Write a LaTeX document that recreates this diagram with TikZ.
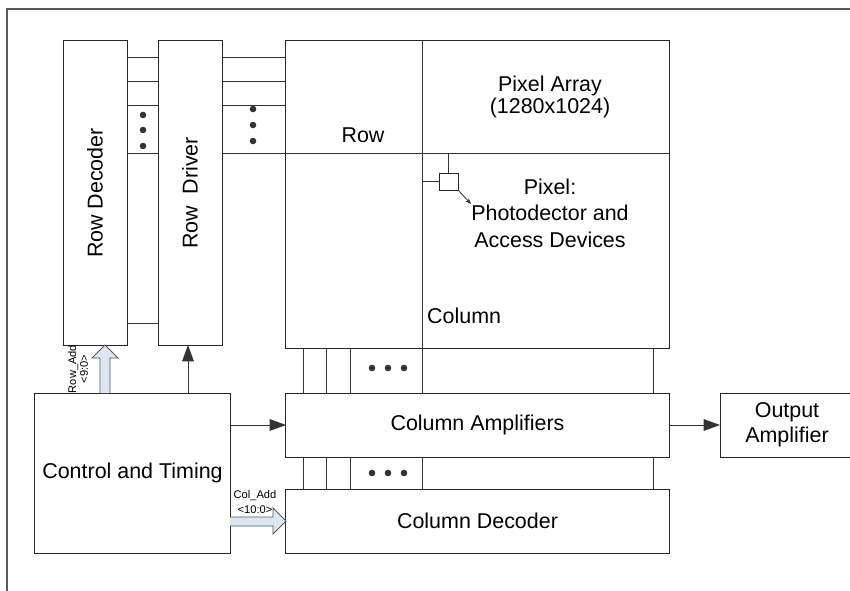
\documentclass[tikz,border=0pt]{standalone}
\usepackage{fontspec}
\setmainfont{Liberation Sans}
\usetikzlibrary{positioning,arrows.meta}
\definecolor{busfill}{HTML}{DDE7F4}

\begin{document}
\begin{tikzpicture}[x=0.03cm,y=-0.03cm,
  box/.style={draw=black!85,line width=0.85pt,inner sep=0pt,outer sep=0pt,align=center,
    font=\fontsize{18.3}{21.5}\selectfont},
  lbl/.style={inner sep=0pt,align=center,font=\fontsize{18.3}{21.5}\selectfont},
  small/.style={inner sep=0pt,align=center,font=\fontsize{9.5}{11}\selectfont},
  wire/.style={draw=black!80,line width=0.85pt},
  sig/.style={wire,-{Triangle[length=14pt,width=10pt]}},
  bus/.style={draw=black!65,fill=busfill,line width=0.7pt}]
\clip (0,0) rectangle (850,590);
% frame
\draw[line width=1.7pt,black!65] (7,600) -- (7,9) -- (860,9);
% blocks
\node[box,minimum width=1.92cm,minimum height=9.12cm] (dec) at (95,193) {\rotatebox{90}{Row Decoder}};
\node[box,minimum width=1.92cm,minimum height=9.12cm] (drv) at (190,193) {\rotatebox{90}{Row\ \ Driver}};
\node[box,minimum width=11.49cm,minimum height=9.21cm] (pix) at (477.5,194.5) {};
\node[box,minimum width=11.49cm,minimum height=1.92cm] (ca) at (477.5,425) {Column Amplifiers};
\node[box,minimum width=11.49cm,minimum height=1.92cm] (cd) at (477.5,521) {Column Decoder};
\node[box,minimum width=4.02cm,minimum height=1.92cm] (oa) at (787,425) {Output\\Amplifier};
\node[box,minimum width=5.85cm,minimum height=4.8cm] (ct) at (132.5,473) {Control and Timing};
% pixel array
\draw[wire] (pix.north -| 422,0) -- (pix.south -| 422,0);
\node[lbl] (rowlbl) at (363,135) {Row};
\node[lbl,anchor=west] (collbl) at (427,316) {Column};
\node[lbl,font=\fontsize{18.3}{19}\selectfont] (arrlbl) at (550,97) {Pixel Array\\(1280x1024)};
\node[lbl,font=\fontsize{18.3}{22.5}\selectfont] (pxlbl) at (550,213) {Pixel:\\Photodector and\\Access Devices};
\node[box,minimum width=0.57cm,minimum height=0.51cm] (px) at (448.5,181.5) {};
\draw[wire] (px.north) -- (px.north |- 0,153);
\draw[wire] (px.west) -- (px.west -| 422,0);
\coordinate (pxend) at (471,204);
\draw[wire,line width=0.7pt,-{Stealth[length=5pt,width=4pt]}] (px.south east) -- (pxend);
% row lines
\foreach \y in {57,81,105,153,323}
  \draw[wire] (dec.east |- 0,\y) -- (drv.west |- 0,\y);
\foreach \y in {57,81,105}
  \draw[wire] (drv.east |- 0,\y) -- (pix.west |- 0,\y);
\draw[wire] (drv.east |- 0,153) -- (pix.east |- 0,153);
\foreach \y in {115,130,146}
  \fill[black!80] (143,\y) circle[radius=2.8pt];
\foreach \y in {109,125,141}
  \fill[black!80] (253,\y) circle[radius=2.8pt];
% column lines
\foreach \x in {303,326,350,422,653} {
  \draw[wire] (pix.south -| \x,0) -- (ca.north -| \x,0);
  \draw[wire] (ca.south -| \x,0) -- (cd.north -| \x,0);
}
\foreach \x in {372,388,404} {
  \fill[black!80] (\x,368) circle[radius=2.8pt];
  \fill[black!80] (\x,473) circle[radius=2.8pt];
}
% control signals
\draw[sig] (ct.east |- ca.west) -- (ca.west);
\draw[sig] (ct.north -| 188,0) -- (drv.south -| 188,0);
\draw[sig] (ca.east) -- (oa.west);
% address buses
\draw[bus] (ct.north -| 100,0) -- ++(0,-35) -- ++(-8,0) -- (dec.south -| 105,0)
  -- ++(13,13) -- ++(-8,0) -- (ct.north -| 110,0);
\node[small,rotate=90,font=\fontsize{9.5}{10}\selectfont] (ralbl) at (78,369) {Row\_Add\\<9:0>};
\draw[bus] (ct.east |- 0,517) -- ++(43,0) -- ++(0,-9) -- (cd.west |- 0,521)
  -- ++(-13,13) -- ++(0,-8) -- (ct.east |- 0,526);
\node[small,font=\fontsize{9.5}{12}\selectfont] (calbl) at (255,502) {Col\_Add\\<10:0>};
\end{tikzpicture}
\end{document}
